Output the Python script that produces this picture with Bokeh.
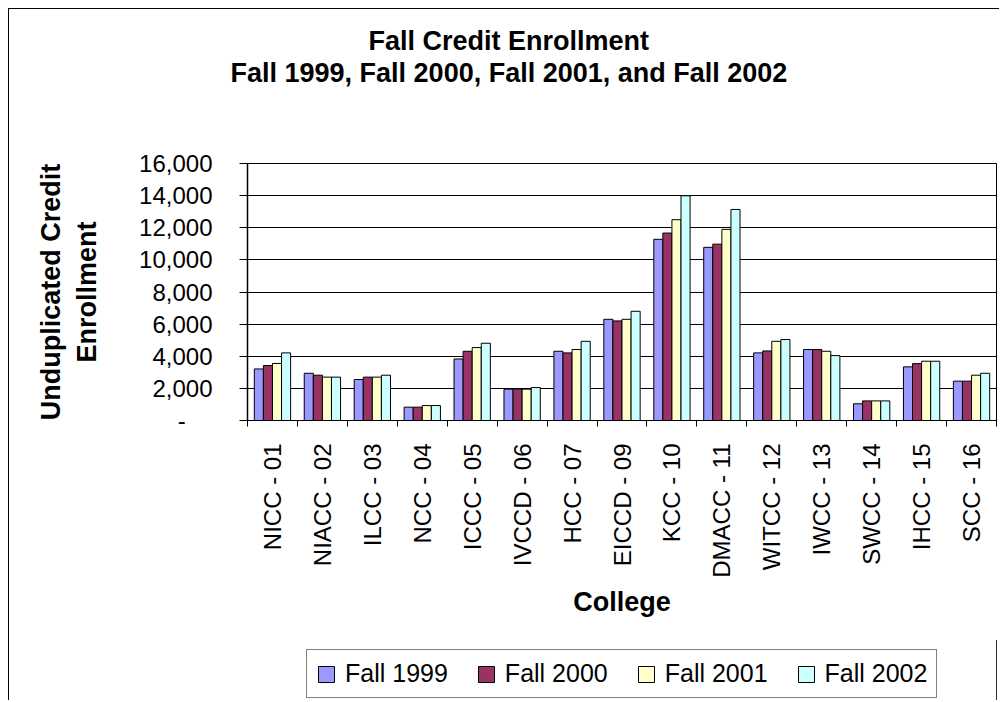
import math
from bokeh.plotting import figure
from bokeh.layouts import column
from bokeh.models import (ColumnDataSource, Range1d, FixedTicker, CustomJSTickFormatter,
                          Title, Legend, LegendItem)
from bokeh.transform import dodge
from bokeh.embed import file_html
from bokeh.resources import INLINE

colleges = ["NICC - 01", "NIACC - 02", "ILCC - 03", "NCC - 04", "ICCC - 05",
            "IVCCD - 06", "HCC - 07", "EICCD - 09", "KCC - 10", "DMACC - 11",
            "WITCC - 12", "IWCC - 13", "SWCC - 14", "IHCC - 15", "SCC - 16"]
series_names = ["Fall 1999", "Fall 2000", "Fall 2001", "Fall 2002"]
fall_1999 = [3210, 2940, 2550, 830, 3830, 1950, 4310, 6300, 11280, 10780, 4210, 4420, 1040, 3340, 2450]
fall_2000 = [3420, 2820, 2700, 830, 4310, 1950, 4210, 6200, 11670, 10980, 4330, 4420, 1220, 3540, 2450]
fall_2001 = [3550, 2700, 2700, 930, 4540, 1950, 4420, 6300, 12500, 11900, 4930, 4310, 1220, 3690, 2820]
fall_2002 = [4210, 2700, 2820, 930, 4810, 2050, 4930, 6800, 13990, 13140, 5040, 4040, 1220, 3690, 2940]
colors = ["#9999FF", "#993366", "#FFFFCC", "#CCFFFF"]
y_ticks = list(range(0, 16001, 2000))
title_line1 = "Fall Credit Enrollment"
title_line2 = "Fall 1999, Fall 2000, Fall 2001, and Fall 2002"
x_title = "College"
y_title = "Unduplicated Credit\nEnrollment"

FONT = "Liberation Sans"
n = len(colleges)
centers = [i + 0.5 for i in range(n)]
boundaries = list(range(n + 1))

source = ColumnDataSource(dict(xc=centers, f1999=fall_1999, f2000=fall_2000,
                               f2001=fall_2001, f2002=fall_2002))
cols = ["f1999", "f2000", "f2001", "f2002"]

# ---------------- main chart ----------------
p = figure(width=990, height=631, x_range=Range1d(0, n), y_range=Range1d(0, 16000),
           output_backend="svg", toolbar_location=None, title=None,
           min_border_left=238, min_border_right=3, min_border_top=154, min_border_bottom=220,
           background_fill_color="white", border_fill_color="white",
           outline_line_color="black", outline_line_width=1)

w = 1 / 5.5
for j, (c, color) in enumerate(zip(cols, colors)):
    p.vbar(x=dodge("xc", (j - 1.5) * w, range=p.x_range), top=c, width=w, source=source,
           fill_color=color, line_color="black", line_width=1)

# grid
p.xgrid.visible = False
p.ygrid.grid_line_color = "black"
p.ygrid.grid_line_width = 1
p.ygrid.ticker = FixedTicker(ticks=y_ticks)

# y axis
ya = p.yaxis[0]
ya.ticker = FixedTicker(ticks=y_ticks)
ya.formatter = CustomJSTickFormatter(code="""
if (tick == 0) { return "-\\u00a0\\u00a0\\u00a0\\u00a0"; }
return Math.round(tick).toLocaleString("en-US");
""")
ya.major_label_text_font = FONT
ya.major_label_text_font_size = "24px"
ya.major_label_text_color = "black"
ya.major_tick_out = 8
ya.major_tick_in = 0
ya.minor_tick_out = 0
ya.minor_tick_in = 0
ya.major_label_standoff = 27
ya.axis_line_color = "black"
ya.axis_line_width = 1.5
ya.major_tick_line_color = "black"
ya.axis_label = y_title
ya.axis_label_text_font = FONT
ya.axis_label_text_font_size = "27px"
ya.axis_label_text_font_style = "bold"
ya.axis_label_text_color = "black"
ya.axis_label_standoff = 34

# x axis
xa = p.xaxis[0]
xa.ticker = FixedTicker(ticks=centers, minor_ticks=boundaries)
xa.formatter = CustomJSTickFormatter(args=dict(labels=colleges),
                                     code="return labels[Math.floor(tick)] || '';")
xa.major_label_orientation = math.pi / 2
xa.major_label_text_font = FONT
xa.major_label_text_font_size = "24px"
xa.major_label_text_color = "black"
xa.major_tick_out = 0
xa.major_tick_in = 0
xa.minor_tick_out = 6
xa.minor_tick_in = 0
xa.minor_tick_line_color = "black"
xa.major_label_standoff = 17
xa.axis_line_color = "black"
xa.axis_line_width = 1
xa.axis_label = x_title
xa.axis_label_text_font = FONT
xa.axis_label_text_font_size = "27px"
xa.axis_label_text_font_style = "bold"
xa.axis_label_text_color = "black"
xa.axis_label_standoff = 6

# chart titles (inner line carries bottom padding = gap to the plot area)
t2 = Title(text=title_line2, align="left", offset=-17, standoff=0, padding=(0, 0, 0, 76),
           text_font=FONT, text_font_size="27px", text_font_style="bold", text_color="black")
t1 = Title(text=title_line1, align="left", offset=121, standoff=0,
           text_font=FONT, text_font_size="27px", text_font_style="bold", text_color="black")
p.add_layout(t2, "above")
p.add_layout(t1, "above")

# ---------------- legend strip ----------------
# The strip shows the same series; its x range lies away from the data, so only the
# legend (whose swatches take the series' fill styles) is visible.
p2 = figure(width=990, height=60, x_range=Range1d(-20, -19), y_range=Range1d(0, 1),
            output_backend="svg", toolbar_location=None, title=None,
            x_axis_location=None, y_axis_location=None, min_border=0,
            background_fill_color="white", border_fill_color="white", outline_line_color=None)
p2.grid.visible = False
swatches = [p2.vbar(x="xc", top=c, width=w, source=source, fill_color=color,
                    line_color="black", line_width=1) for c, color in zip(cols, colors)]
legend = Legend(items=[LegendItem(label=nm, renderers=[r]) for nm, r in zip(series_names, swatches)],
                orientation="horizontal", location=(59, 2),
                label_text_font=FONT, label_text_font_size="25px", label_text_color="black",
                glyph_width=20, glyph_height=20, label_standoff=9, spacing=28,
                padding=9, margin=0, border_line_color="black", border_line_width=1,
                background_fill_color="white", background_fill_alpha=1.0)
p2.add_layout(legend)

layout = column(p, p2, spacing=0)
layout.styles = {"margin-left": "8px", "margin-top": "8px",
                 "border-left": "1px solid black", "border-top": "1px solid black"}

open("out.html", "w").write(file_html(layout, INLINE))
